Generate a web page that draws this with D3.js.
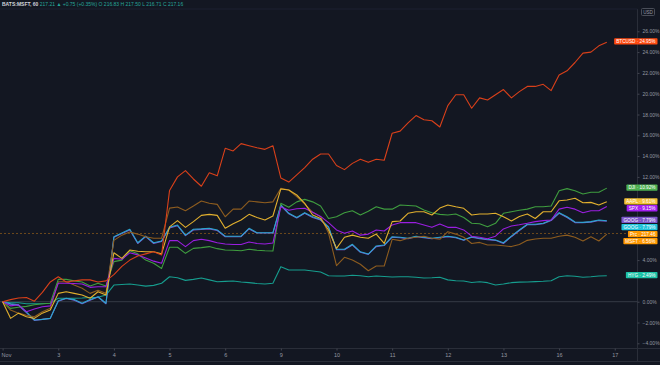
<!DOCTYPE html>
<html><head><meta charset="utf-8">
<script src="https://cdn.jsdelivr.net/npm/d3@7"></script>
<style>
html,body{margin:0;padding:0;background:#131722;overflow:hidden;}
svg{display:block;font-family:"Liberation Sans","DejaVu Sans",sans-serif;}
</style></head><body>
<svg id="c" width="660" height="365"></svg>
<script>
const dayLabels = ["Nov","3","4","5","6","9","10","11","12","13","16","17"];
const barsPerDay = 7;
const yTicks = [-4,-2,0,2,4,6,8,10,12,14,16,18,20,22,24,26];

const names = ["HYG","GOOGL","GOOG","MSFT","DJI","SPX","AAPL","BTCUSD"];
const lineColors = ["#169d8e","#7b55c8","#2aa6cf","#8d5c1f","#3f9d3f","#9a1ee0","#e2b02e","#d9401a"];
const labelColors = ["#1cc2a6","#7b55c8","#22c3da","#ff9800","#4caf50","#a31ff0","#f2c033","#ff4a10"];
const labelTexts = ["HYG · 2.49%","GOOG · 7.79%","GOOG · 7.79%","MSFT · 6.56%","DJI · 10.92%","SPX · 9.15%","AAPL · 9.61%","BTCUSD · 24.95%"];
const labelY = [275,219.8,227,241,187.5,208.2,201.3,41.3];

const hyg = [0,-0.1,-0.1,-0.2,-0.2,-0.2,-0.15,0.33,0.33,0.33,0.35,0.4,0.42,0.64,
1.6,1.65,1.7,1.6,1.5,1.57,1.77,2.4,2.3,2.05,2.15,2.28,2.1,1.92,1.95,1.99,1.9,1.83,1.75,1.7,1.77,
3.37,3.05,3.05,3.05,2.95,2.86,2.5,2.47,2.47,2.55,2.5,2.4,2.47,2.42,2.37,2.4,2.4,2.35,2.28,2.3,2.35,
2.1,2.02,1.99,1.85,1.92,1.83,1.6,1.7,1.83,1.88,1.9,1.93,1.96,2.02,2.4,2.5,2.45,2.35,2.4,2.47,2.49];
const googl = [0,-0.25,-0.35,-1.05,-1.8,-1.7,-1.6,0.05,0.3,0.15,-0.2,0.15,0.45,-0.2,
6.2,6.55,6.9,5.6,6.25,5.6,5.8,7.1,7.3,6.35,6.9,6.95,7.0,6.85,6.25,6.25,6.25,7.0,6.6,6.6,6.6,
9.25,8.45,8.05,8.5,8.1,7.85,7.15,5.0,5.0,5.45,4.75,4.55,5.3,5.4,6.2,6.15,6.05,6.25,6.15,6.05,6.15,
6.25,6.15,5.9,6.2,6.05,5.95,5.9,5.6,6.25,6.85,7.4,7.4,7.5,7.8,8.5,8.1,7.6,7.6,7.65,7.8,7.75];
const goog = [0,-0.2,-0.3,-1.0,-1.76,-1.7,-1.6,0.1,0.33,0.2,-0.15,0.2,0.48,-0.15,
6.25,6.6,6.96,5.67,6.3,5.67,5.84,7.15,7.37,6.4,6.96,7.0,7.06,6.9,6.3,6.3,6.3,7.06,6.63,6.63,6.63,
9.3,8.5,8.1,8.56,8.17,7.9,7.2,5.04,5.04,5.52,4.8,4.58,5.36,5.45,6.25,6.2,6.1,6.3,6.2,6.1,6.2,
6.3,6.2,5.93,6.25,6.1,6.0,5.93,5.67,6.3,6.9,7.44,7.44,7.54,7.86,8.56,8.17,7.66,7.63,7.7,7.86,7.79];
const msft = [0,-0.8,-1.1,-1.3,-1.44,-0.96,-0.64,1.92,1.92,1.6,1.3,0.8,1.1,0.8,
5.9,6.4,6.7,6.5,6.25,6.1,6.1,9.0,9.1,8.75,9.2,9.68,9.46,9.36,8.17,8.9,8.9,9.68,9.6,9.52,9.6,
10.9,10.74,10.1,9.4,8.6,8.17,6.6,3.46,4.27,4.0,3.6,2.98,3.43,3.43,6.0,5.87,6.1,6.2,6.3,6.1,6.0,
6.73,6.5,6.2,5.6,5.7,5.45,5.45,5.38,5.3,5.5,5.9,6.03,6.1,6.1,6.3,6.4,6.2,5.84,6.25,5.84,6.5];
const dji = [0,-0.64,-0.54,-0.45,-0.3,-0.2,-0.15,2.15,2.15,2.0,1.9,1.5,1.77,1.5,
3.85,4.0,4.9,4.6,4.0,3.7,3.2,5.23,5.23,4.65,5.13,5.2,5.3,5.1,4.97,4.95,4.9,5.04,4.95,4.9,4.87,
9.46,9.08,9.6,9.84,9.6,9.2,8.0,8.17,8.56,8.75,8.34,8.7,9.13,8.9,8.9,9.3,9.25,9.2,8.82,8.56,8.4,
8.34,8.43,8.1,7.54,7.5,7.2,7.54,8.5,8.65,8.8,8.9,9.13,9.13,9.2,10.67,10.87,10.67,10.36,10.52,10.52,10.92];
const spx = [0,-0.4,-0.3,-0.96,-0.7,-0.48,-0.4,1.77,1.77,1.75,1.7,1.38,1.44,1.44,
4.17,4.08,4.7,4.5,4.2,3.9,3.7,5.87,5.87,5.3,5.87,6.0,5.87,5.67,5.55,5.5,5.5,5.74,5.6,5.55,5.64,
9.13,8.8,8.94,8.98,8.6,8.2,7.6,6.9,6.58,6.8,6.4,6.5,6.9,6.8,7.37,7.6,7.6,7.6,7.37,7.15,7.47,
7.15,7.15,6.9,6.3,6.2,6.06,6.3,7.0,7.28,7.4,7.54,7.7,7.8,7.86,8.9,9.08,8.9,8.56,8.75,8.75,9.15];
const aapl = [0,-1.6,-1.1,-1.44,-1.6,-1.1,-0.8,0.8,0.96,0.8,0.64,0.33,0.96,0.64,
4.7,4.17,4.97,4.85,4.8,4.8,4.6,7.2,7.8,7.15,7.7,8.3,8.4,8.3,7.06,7.5,7.86,8.4,8.1,7.86,8.24,
10.84,10.74,10.26,9.46,8.34,8.0,6.9,5.13,6.2,6.4,6.2,6.1,6.5,5.6,7.7,7.76,8.5,8.65,8.65,8.34,9.0,
9.3,9.13,8.98,8.34,8.43,8.43,8.5,8.17,7.76,8.2,8.43,8.0,8.65,8.65,9.7,9.78,9.94,9.52,9.55,9.3,9.61];
const btc = [0,0.2,0.35,0.4,0.05,0.9,1.9,2.4,1.9,2.0,2.1,2.1,1.9,2.0,
2.6,3.4,4.0,4.4,4.6,4.8,4.5,10.7,12.0,12.6,11.8,11.1,12.4,12.1,14.75,14.5,15.2,15.0,14.8,14.65,15.0,
11.9,11.5,12.2,12.9,13.7,14.2,14.2,13.1,12.7,13.3,13.7,13.4,13.7,13.6,16.2,16.4,17.2,17.9,17.5,17.4,16.8,
18.85,19.9,19.9,18.6,19.6,19.4,19.9,20.4,19.6,20.2,20.7,20.7,20.9,20.3,21.8,22.2,23.0,23.9,24.0,24.6,24.95];

const seriesValues = [hyg,googl,goog,msft,dji,spx,aapl,btc];
const lastPrice = 6.56;
const priceLabel = "217.46";
const header = ["BATS:MSFT, 60", "217.21 ▲ +0.75 (+0.35%)  O 216.83  H 217.50  L 216.71  C 217.16"];

const W = 660, H = 365;
const plotR = 637.5, plotT = 9, plotB = 348.5;
const svg = d3.select("#c");
const nBars = dayLabels.length - 1;
const x = d3.scaleLinear().domain([0, nBars * barsPerDay]).range([2.6, 2.6 + nBars * barsPerDay * 7.95]);
const y = d3.scaleLinear().domain([0, 26]).range([301.7, 31.3]);

svg.append("rect").attr("width", W).attr("height", H).attr("fill", "#131722");
svg.append("defs").append("clipPath").attr("id","clip").append("rect")
  .attr("x", 0).attr("y", plotT).attr("width", plotR).attr("height", plotB - plotT);

// frame lines
const fr = svg.append("g").attr("stroke", "#2a2e39").attr("stroke-width", 1).attr("fill","none");
fr.append("line").attr("x1", 0).attr("x2", W).attr("y1", plotB).attr("y2", plotB);
fr.append("line").attr("x1", 0).attr("x2", W).attr("y1", 361.5).attr("y2", 361.5);
fr.append("line").attr("x1", plotR).attr("x2", plotR).attr("y1", plotT).attr("y2", 361.5);
fr.append("line").attr("x1", 0).attr("x2", plotR).attr("y1", plotT).attr("y2", plotT).attr("stroke","#1c2030");

// zero line & price line
svg.append("line").attr("x1", 0).attr("x2", plotR).attr("y1", y(0)).attr("y2", y(0))
  .attr("stroke", "#363a45").attr("stroke-width", 1);
svg.append("line").attr("x1", 0).attr("x2", plotR).attr("y1", y(lastPrice)).attr("y2", y(lastPrice))
  .attr("stroke", "#6e4a1c").attr("stroke-width", 1).attr("stroke-dasharray", "2,2");

// lines
const line = d3.line().x((d, i) => x(i)).y(d => y(d));
const lg = svg.append("g").attr("clip-path", "url(#clip)");
seriesValues.forEach((vals, k) => {
  lg.append("path").datum(vals).attr("d", line).attr("fill", "none")
    .attr("stroke", lineColors[k]).attr("stroke-width", 1.1).attr("stroke-linejoin","round");
});

// x axis
const xAxis = d3.axisBottom(x)
  .tickValues(d3.range(0, nBars * barsPerDay + 1, barsPerDay))
  .tickFormat((d, i) => dayLabels[i]).tickSize(2).tickPadding(3);
const gx = svg.append("g").attr("transform", `translate(0,${plotB})`).call(xAxis);
gx.select(".domain").remove();
gx.selectAll("line").attr("stroke", "#434651");
gx.selectAll("text").attr("fill", "#9598a1").attr("font-size", 5.5).attr("font-family","Liberation Sans, sans-serif");
gx.selectAll(".tick").filter((d, i) => i === 0).select("text").attr("text-anchor", "start").attr("dx", -1.5);

// y axis: hide tick labels covered by series tags
const tagYs = labelY.concat([234]);
const visibleTicks = yTicks.filter(v => tagYs.every(ty => Math.abs(y(v) - ty) > 6.5));
const yAxis = d3.axisRight(y).tickValues(visibleTicks)
  .tickFormat(d => d3.format(".2f")(d) + "%").tickSize(2).tickPadding(3);
const gy = svg.append("g").attr("transform", `translate(${plotR},0)`).call(yAxis);
gy.select(".domain").remove();
gy.selectAll("line").attr("stroke", "#434651");
gy.selectAll("text").attr("fill", "#9598a1").attr("font-size", 5).attr("font-family","Liberation Sans, sans-serif");

// USD box
const ub = svg.append("g");
ub.append("rect").attr("x", 641.5).attr("y", 8.5).attr("width", 13).attr("height", 7)
  .attr("fill", "none").attr("stroke", "#4a4e59").attr("rx", 1);
ub.append("text").attr("x", 648).attr("y", 14).attr("text-anchor","middle")
  .attr("fill","#9598a1").attr("font-size", 4.6).text("USD");

// series labels
function tag(txt, cy, col, txtCol) {
  const g = svg.append("g");
  const t = g.append("text").attr("x", 655.5).attr("y", cy + 1.7).attr("text-anchor", "end")
    .attr("font-size", 4.7).attr("fill", txtCol).text(txt);
  const bb = t.node().getBBox();
  g.insert("rect", "text").attr("x", bb.x - 2).attr("y", cy - 3.1)
    .attr("width", 657.5 - (bb.x - 2)).attr("height", 6.4).attr("fill", col).attr("rx", 0.8);
}
names.forEach((n, k) => {
  tag(labelTexts[k], labelY[k], labelColors[k], "#ffffff");
});
tag("Prc · " + priceLabel, 234, "#ff9800", "#ffffff");

// header
const hd = svg.append("text").attr("x", 2).attr("y", 5.5).attr("font-size", 5).attr("fill", "#d1d4dc");
hd.append("tspan").attr("font-weight","bold").text(header[0] + "  ");
hd.append("tspan").attr("fill", "#26a69a").text(header[1]);
</script>
</body></html>
